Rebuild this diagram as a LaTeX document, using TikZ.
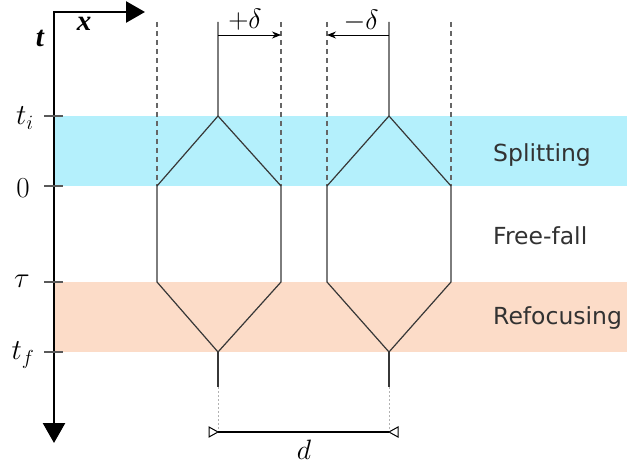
\RequirePackage{fix-cm}
\documentclass[tikz,border=0pt]{standalone}
\usepackage{fontspec}
\newfontfamily\labelfont{DejaVu Sans}
\newfontfamily\axfont{Liberation Serif}
\usetikzlibrary{arrows.meta}
\definecolor{bandcyan}{RGB}{180,240,252}
\definecolor{bandpeach}{RGB}{252,220,200}
\definecolor{pathgray}{RGB}{55,55,55}
\definecolor{textgray}{RGB}{50,50,50}
\tikzset{
  armline/.style={draw=pathgray,line width=1.2pt},
  guide/.style={draw=gray!80!black,line width=1.1pt,dash pattern=on 5pt off 4pt},
  faint/.style={draw=gray!60,line width=1pt,dash pattern=on 2pt off 2pt},
  tickmark/.style={draw=gray!70!black,line width=1.3pt},
  axisline/.style={draw=black,line width=2.6pt},
  shiftarrow/.style={draw=black,line width=0.9pt,-{Stealth[length=9pt,width=7pt]}},
  phase/.style={font=\labelfont\fontsize{23.5}{28}\selectfont,text=textgray,anchor=base west,inner sep=0pt},
  tlabel/.style={font=\fontsize{28}{33}\selectfont,inner sep=0pt},
  levlabel/.style={font=\fontsize{29}{34}\selectfont,inner sep=0pt},
  axlabel/.style={font=\axfont\bfseries\itshape\fontsize{29}{34}\selectfont,inner sep=0pt},
  openhead/.style={draw=black,line width=1pt,fill=white}
}
\begin{document}
\begin{tikzpicture}[x=1pt,y=-1pt]
\useasboundingbox (0,0) rectangle (627,465);
% bands
\fill[bandcyan] (55,116) rectangle (627,186);
\fill[bandpeach] (55,282) rectangle (627,352);
% guides
\foreach \xx in {157,281,327,451}{
  \draw[guide] (\xx,22) -- (\xx,186);
}
% interferometer 1
\coordinate (A1) at (218,22);
\coordinate (B1) at (218,116);
\coordinate (C1) at (157,186);
\coordinate (D1) at (281,186);
\coordinate (E1) at (157,282);
\coordinate (F1) at (281,282);
\coordinate (G1) at (218,352);
\coordinate (H1) at (218,387);
\coordinate (K1) at (218,432);
\draw[armline] (A1) -- (B1) -- (C1) -- (E1) -- (G1) -- (F1) -- (D1) -- (B1);
\draw[armline,line width=1.6pt] (G1) -- (H1);
\draw[faint] (H1) -- (K1);
% interferometer 2
\coordinate (A2) at (389,22);
\coordinate (B2) at (389,116);
\coordinate (C2) at (327,186);
\coordinate (D2) at (451,186);
\coordinate (E2) at (327,282);
\coordinate (F2) at (451,282);
\coordinate (G2) at (389,352);
\coordinate (H2) at (389,387);
\coordinate (K2) at (389,432);
\draw[armline] (A2) -- (B2) -- (C2) -- (E2) -- (G2) -- (F2) -- (D2) -- (B2);
\draw[armline,line width=1.6pt] (G2) -- (H2);
\draw[faint] (H2) -- (K2);
% delta arrows
\coordinate (P1) at (218,35);
\coordinate (P2) at (281,35);
\coordinate (Q1) at (389,35);
\coordinate (Q2) at (327,35);
\draw[shiftarrow] (P1) -- (P2);
\draw[shiftarrow] (Q1) -- (Q2);
\node[tlabel] (pd) at (245,20) {$+\delta$};
\node[tlabel] (md) at (361,21) {$-\delta$};
% d arrow
\draw[draw=black,line width=1.1pt] (K1) -- (K2);
\draw[openhead] (K1) -- ++(-9,-5) -- ++(0,10) -- cycle;
\draw[openhead] (K2) -- ++(9,-5) -- ++(0,10) -- cycle;
\node[tlabel] (dl) at (304,450) {$d$};
% axes
\draw[axisline,{Triangle[length=19pt,width=21pt]}-{Triangle[length=20pt,width=22pt]}] (145,12) -- (54,12) -- (54,443);
\node[axlabel] (tax) at (40,38) {t};
\node[axlabel] (xax) at (84,24) {x};
% ticks
\foreach \y in {116,186,282,352}{
  \draw[tickmark] (44,\y) -- (63,\y);
}
\node[levlabel] (ti) at (25,118) {$t_i$};
\node[levlabel] (t0) at (23,188) {$0$};
\node[levlabel] (ttau) at (22,281) {$\tau$};
\node[levlabel] (tf) at (23,355) {$t_f$};
% phases
\node[phase] (sp) at (493,162) {Splitting};
\node[phase] (ff) at (493,245) {Free-fall};
\node[phase] (rf) at (493,324) {Refocusing};
\end{tikzpicture}
\end{document}
